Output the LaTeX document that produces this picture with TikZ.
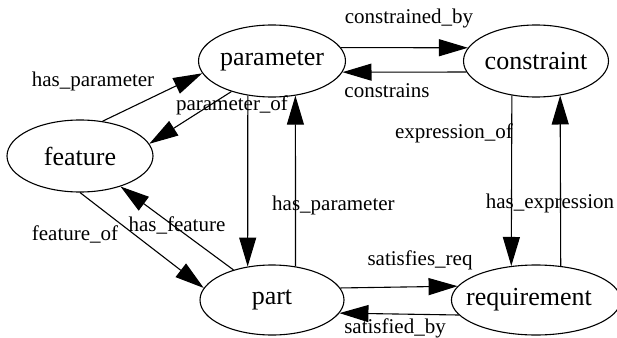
\documentclass[tikz,border=0pt]{standalone}
\usepackage{fontspec}
\setmainfont{Liberation Serif}
\usetikzlibrary{shapes.geometric,arrows.meta}
\begin{document}
\begin{tikzpicture}[x=1pt,y=-1pt,
  ent/.style={draw,ellipse,line width=1.1pt,inner sep=0pt,minimum width=144pt,minimum height=72pt,font=\fontsize{26}{30}\selectfont},
  rel/.style={line width=1.1pt,-{Triangle[length=29pt,width=17pt]}},
  lbl/.style={inner sep=0pt,font=\fontsize{21}{24}\selectfont}]
\useasboundingbox (0,0) rectangle (617,337);
\node[ent,minimum width=146pt] (feature) at (80,156) {feature};
\node[ent] (param) at (272,61) {parameter};
\node[ent,minimum width=145pt] (constr) at (536,61) {constraint};
\node[ent,minimum height=70pt] (part) at (272,300) {part};
\node[ent,minimum height=70pt] (req) at (536,300) {\hspace*{-10pt}requirement\hspace*{4pt}};
% edges
\draw[rel] (param.11) -- (constr.169);
\draw[rel] (constr.189) -- (param.351);
\draw[rel] (constr.235) -- (req.126);
\draw[rel] (req.54) -- (constr.305);
\draw[rel] (param.235) -- (part.126);
\draw[rel] (part.55) -- (param.304);
\draw[rel] (part.10) -- (req.170);
\draw[rel] (req.191) -- (part.349);
\draw[rel] (feature.57) -- (param.190);
\draw[rel] (param.217) -- (feature.10);
\draw[rel] (feature.270) -- (part.170);
\draw[rel] (part.142) -- (feature.323);
% labels
\node[lbl] (l1) at (93,81) {has\_parameter};
\node[lbl] (l2) at (232,105) {parameter\_of};
\node[lbl] (l3) at (409,18) {constrained\_by};
\node[lbl] (l4) at (387,91) {constrains};
\node[lbl,anchor=east] (l5) at (513,133) {expression\_of};
\node[lbl] (l6) at (550,203) {has\_expression};
\node[lbl,anchor=west] (l7) at (272,205) {has\_parameter};
\node[lbl] (l8) at (75,234) {feature\_of};
\node[lbl] (l9) at (177,225) {has\_feature};
\node[lbl] (l10) at (420,260) {satisfies\_req};
\node[lbl] (l11) at (395,328) {satisfied\_by};
\end{tikzpicture}
\end{document}
